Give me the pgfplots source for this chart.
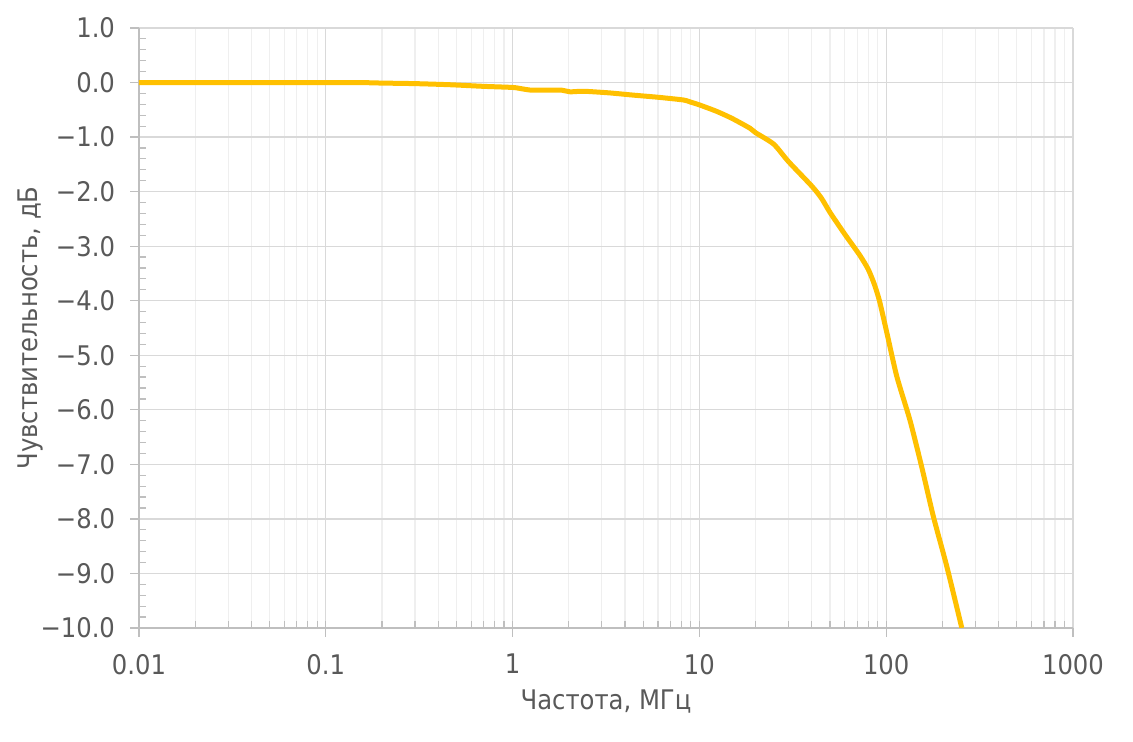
\documentclass[border=0pt]{standalone}
\usepackage{fontspec}
\setmainfont{DejaVu Sans Condensed}
\usepackage{pgfplots}
\pgfplotsset{compat=1.18}

\definecolor{curve}{HTML}{FFC000}
\definecolor{txt}{HTML}{595959}
\definecolor{majgrid}{HTML}{D9D9D9}
\definecolor{mingrid}{HTML}{EFEFEF}
\definecolor{axline}{HTML}{BFBFBF}

\begin{document}
\begin{tikzpicture}
\begin{axis}[
    scale only axis,
    width=467pt,
    height=300pt,
    xmode=log,
    xmin=0.01, xmax=1000,
    ymin=-10, ymax=1,
    axis lines=left,
    axis line style={-, draw=axline, line width=0.8pt},
    xtick={0.01,0.1,1,10,100,1000},
    xticklabels={0.01,0.1,1,10,100,1000},
    ytick={-10,-9,...,1},
    yticklabels={−10.0,−9.0,−8.0,−7.0,−6.0,−5.0,−4.0,−3.0,−2.0,−1.0,0.0,1.0},
    minor y tick num=4,
    xmajorgrids=true, ymajorgrids=true, xminorgrids=true, yminorgrids=false,
    major grid style={draw=majgrid, line width=0.6pt},
    minor grid style={draw=mingrid, line width=0.6pt},
    tick align=outside,
    major tick length=4.5pt,
    minor tick length=3.5pt,
    tick style={draw=axline, line width=0.6pt},
    minor x tick style={yshift=3.5pt},
    minor y tick style={xshift=3.5pt},
    ticklabel style={font=\fontsize{13.5}{16}\selectfont, text=txt},
    xticklabel style={yshift=-5pt},
    yticklabel style={xshift=-4pt},
    label style={font=\fontsize{13.5}{16}\selectfont, text=txt},
    xlabel={Частота, МГц},
    ylabel={Чувствительность, дБ},
    xlabel style={at={(axis description cs:0.5,-0.123)}, anchor=center},
    ylabel style={at={(axis description cs:-0.116,0.5)}, anchor=center},
    clip=true,
]
\addplot[curve, line width=2.5pt, smooth, tension=0.4] coordinates {
    (0.01,0.0) (0.05,0.0) (0.1,0.0) (0.15,0.0) (0.2,-0.01) (0.3,-0.02)
    (0.46,-0.04) (0.7,-0.07) (1.0,-0.09) (1.1,-0.11) (1.26,-0.14)
    (1.5,-0.14) (1.83,-0.14) (2.03,-0.17) (2.4,-0.16) (3.3,-0.19)
    (4.4,-0.23) (6,-0.27) (8.2,-0.32) (9,-0.36) (10,-0.41)
    (12.4,-0.53) (15,-0.66) (18.7,-0.84) (20,-0.92) (25,-1.13)
    (30,-1.45) (40,-1.9) (45,-2.12) (50,-2.38) (60,-2.78) (72,-3.16)
    (80,-3.42) (86,-3.68) (92,-4.0) (101,-4.6) (114,-5.39) (134,-6.19)
    (155,-7.05) (179,-7.96) (211,-8.87) (254,-10.0)
};
\end{axis}
\pgfresetboundingbox
\path (-69.5pt,-57pt) rectangle (497pt,314pt);
\end{tikzpicture}
\end{document}
